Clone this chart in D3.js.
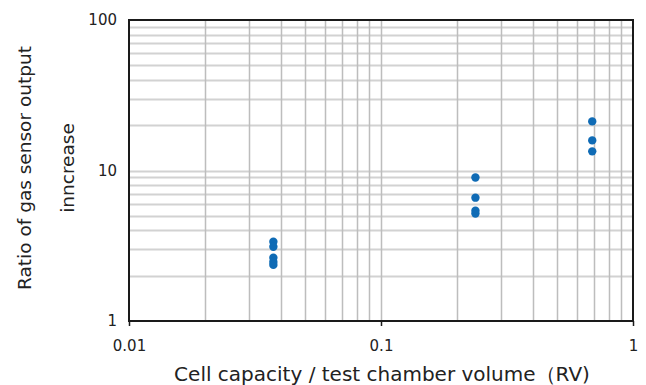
<!DOCTYPE html>
<html><head><meta charset="utf-8">
<script src="https://cdn.jsdelivr.net/npm/d3@7"></script>
<style>body{margin:0;background:#fff;}svg{display:block;}</style>
</head><body>
<svg id="c" width="646" height="385"></svg>
<script>
const xValues = [0.0374,0.0374,0.0374,0.0374,0.0374, 0.237,0.237,0.237,0.237, 0.689,0.689,0.689];
const yValues = [3.36,3.11,2.63,2.47,2.36, 8.98,6.6,5.41,5.17, 21.2,15.85,13.4];
const xTicks = [0.01,0.1,1];
const xTickLabels = ["0.01","0.1","1"];
const yTicks = [1,10,100];
const yTickLabels = ["1","10","100"];
const xTitle = "Cell capacity / test chamber volume（RV)";
const yTitleLines = ["Ratio of gas sensor output","inncrease"];

const svg = d3.select("#c");
const L=129, R=633, T=20, B=321;
const x = d3.scaleLog().domain([0.01,1]).range([L,R]);
const y = d3.scaleLog().domain([1,100]).range([B,T]);
const font = "'DejaVu Sans', Verdana, sans-serif";

function minors(lo,hi){const a=[];for(let d=lo; d<hi; d*=10){for(let k=2;k<=9;k++)a.push(d*k);}return a;}
const g = svg.append("g");
g.selectAll(".hg").data(minors(1,100).concat([10])).enter().append("line")
 .attr("x1",L).attr("x2",R).attr("y1",d=>Math.round(y(d))+0.5).attr("y2",d=>Math.round(y(d))+0.5)
 .attr("stroke","#d2d2d2").attr("stroke-width",2);
g.selectAll(".vg").data(minors(0.01,1).concat([0.1])).enter().append("line")
 .attr("y1",T).attr("y2",B).attr("x1",d=>Math.round(x(d))+0.5).attr("x2",d=>Math.round(x(d))+0.5)
 .attr("stroke","#bdbdbd").attr("stroke-width",1.5);
svg.append("rect").attr("x",L).attr("y",T).attr("width",R-L).attr("height",B-T)
 .attr("fill","none").attr("stroke","#1a1a1a").attr("stroke-width",2);

const xa = svg.append("g").attr("transform",`translate(0,${B})`)
 .call(d3.axisBottom(x).tickValues(xTicks).tickFormat((d,i)=>xTickLabels[i]).tickSize(5).tickPadding(14));
xa.select(".domain").remove();
xa.selectAll("line").attr("stroke","#1a1a1a").attr("stroke-width",1.5);
xa.selectAll("text").attr("font-family",font).attr("font-size",15).attr("fill","#222");

const ya = svg.append("g").attr("transform",`translate(${L},0)`)
 .call(d3.axisLeft(y).tickValues(yTicks).tickFormat((d,i)=>yTickLabels[i]).tickSize(0).tickPadding(12));
ya.select(".domain").remove();
ya.selectAll("text").attr("font-family",font).attr("font-size",15).attr("fill","#222");

svg.selectAll(".pt").data(xValues).enter().append("circle")
 .attr("cx",(d)=>x(d)).attr("cy",(d,i)=>y(yValues[i])).attr("r",4.2).attr("fill","#0f6bb5");

svg.append("text").attr("x",382).attr("y",381).attr("text-anchor","middle")
 .attr("font-family",font).attr("font-size",20).attr("fill","#222").text(xTitle);
[31,74].forEach((cx,i)=>{
 svg.append("text").attr("transform",`translate(${cx},168) rotate(-90)`).attr("text-anchor","middle")
  .attr("font-family",font).attr("font-size",18.5).attr("fill","#222").text(yTitleLines[i]);
});
</script>
</body></html>
